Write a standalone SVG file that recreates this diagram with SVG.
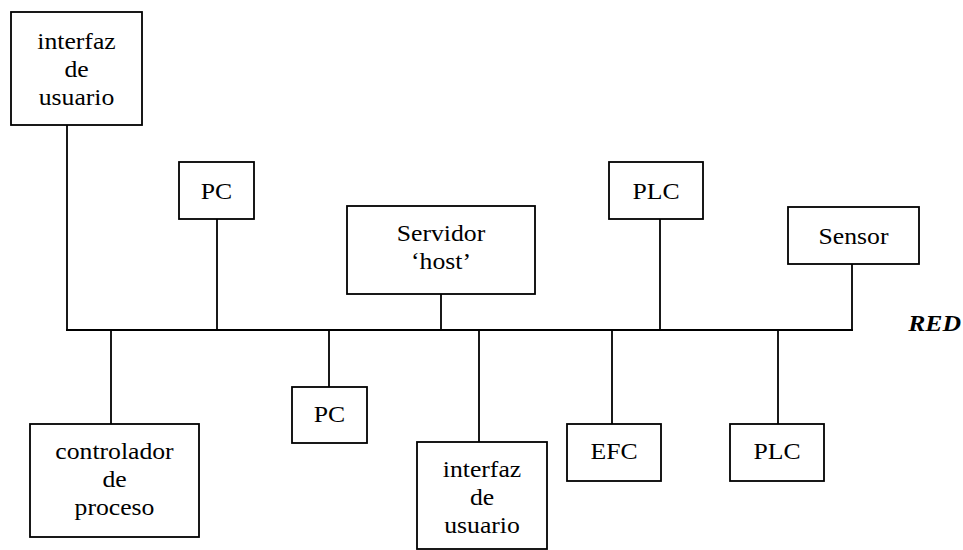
<svg xmlns="http://www.w3.org/2000/svg" width="963" height="550" viewBox="0 0 963 550">
<style>
rect.box{fill:#fff;stroke:#000;stroke-width:1.8}
.conn line{stroke:#000;stroke-width:1.8;stroke-linecap:square}
.t{font-family:"Liberation Serif","Times New Roman",serif;font-size:24px;fill:#000;text-anchor:middle}
.red{font-weight:bold;font-style:italic;text-anchor:end}
</style>
<rect width="963" height="550" fill="#fff"/>
<g id="connectors" class="conn">
<line x1="67" y1="330" x2="852" y2="330"/>
<line x1="67" y1="125" x2="67" y2="330"/>
<line x1="217" y1="219" x2="217" y2="330"/>
<line x1="441" y1="294" x2="441" y2="330"/>
<line x1="660" y1="219" x2="660" y2="330"/>
<line x1="852" y1="264" x2="852" y2="330"/>
<line x1="111" y1="330" x2="111" y2="423"/>
<line x1="329" y1="330" x2="329" y2="386"/>
<line x1="479" y1="330" x2="479" y2="441"/>
<line x1="612" y1="330" x2="612" y2="423"/>
<line x1="778" y1="330" x2="778" y2="423"/>
</g>
<g class="t">
<g id="n-interfaz1"><rect class="box" x="11" y="12" width="131" height="113"/>
<text transform="translate(76.5,49) scale(1.07,1)">interfaz</text>
<text transform="translate(76.5,77) scale(1.07,1)">de</text>
<text transform="translate(76.5,105) scale(1.07,1)">usuario</text></g>
<g id="n-pc1"><rect class="box" x="179" y="162" width="75" height="57"/>
<text transform="translate(216.5,199) scale(1.07,1)">PC</text></g>
<g id="n-servidor"><rect class="box" x="347" y="206" width="188" height="88"/>
<text transform="translate(441,241) scale(1.07,1)">Servidor</text>
<text transform="translate(441,269) scale(1.07,1)">‘host’</text></g>
<g id="n-plc1"><rect class="box" x="609" y="162" width="94" height="57"/>
<text transform="translate(656,199) scale(1.07,1)">PLC</text></g>
<g id="n-sensor"><rect class="box" x="788" y="207" width="131" height="57"/>
<text transform="translate(853.5,244) scale(1.07,1)">Sensor</text></g>
<g id="n-controlador"><rect class="box" x="30" y="424" width="169" height="113"/>
<text transform="translate(114.5,459) scale(1.07,1)">controlador</text>
<text transform="translate(114.5,487) scale(1.07,1)">de</text>
<text transform="translate(114.5,515) scale(1.07,1)">proceso</text></g>
<g id="n-pc2"><rect class="box" x="292" y="387" width="75" height="56"/>
<text transform="translate(329.5,422) scale(1.07,1)">PC</text></g>
<g id="n-interfaz2"><rect class="box" x="417" y="442" width="130" height="107"/>
<text transform="translate(482,477) scale(1.07,1)">interfaz</text>
<text transform="translate(482,505) scale(1.07,1)">de</text>
<text transform="translate(482,533) scale(1.07,1)">usuario</text></g>
<g id="n-efc"><rect class="box" x="567" y="424" width="94" height="57"/>
<text transform="translate(614,459) scale(1.07,1)">EFC</text></g>
<g id="n-plc2"><rect class="box" x="730" y="424" width="94" height="57"/>
<text transform="translate(777,459) scale(1.07,1)">PLC</text></g>
<g id="label-red"><text class="red" transform="translate(961,331) scale(1.07,1)">RED</text></g>
</g>
</svg>
